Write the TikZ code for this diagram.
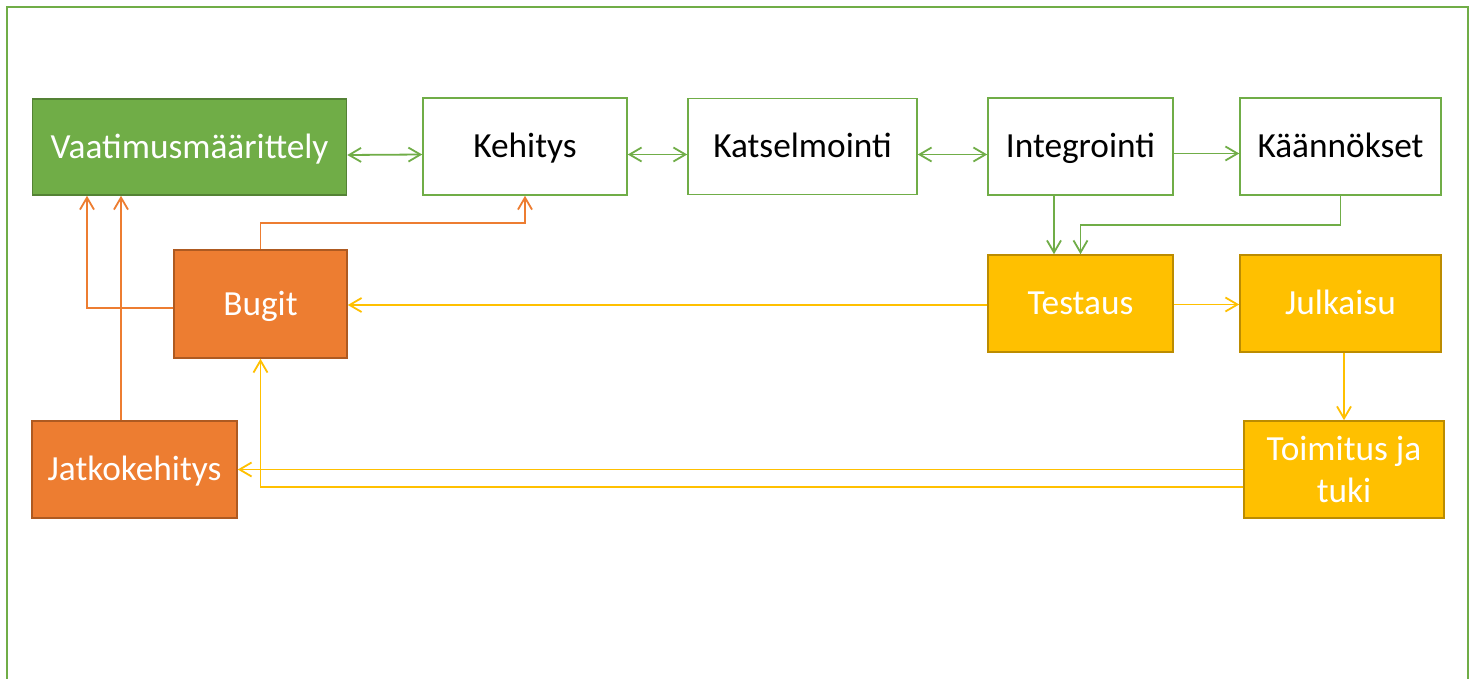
\documentclass[tikz,border=0pt]{standalone}
\usepackage{fontspec}
\setmainfont{Carlito}
\usetikzlibrary{arrows.meta,calc}
\definecolor{grn}{HTML}{70AD47}
\definecolor{grnD}{HTML}{548235}
\definecolor{org}{HTML}{ED7D31}
\definecolor{orgD}{HTML}{AE5A21}
\definecolor{yel}{HTML}{FFC000}
\definecolor{yelD}{HTML}{BC8C00}
\begin{document}
\begin{tikzpicture}[x=1pt,y=-1pt,
  every node/.style={font=\fontsize{35.3}{42.5}\selectfont, inner sep=0pt, line width=1.6pt, align=center},
  one/.style={text height=22.5pt, text depth=0pt},
  wbox/.style={one, draw=grn, fill=white, text=black},
  gbox/.style={one, draw=grnD, fill=grn, text=white},
  obox/.style={one, draw=orgD, fill=org, text=white},
  ybox/.style={one, draw=yelD, fill=yel, text=white},
  ybox2/.style={draw=yelD, fill=yel, text=white},
  gcon/.style={draw=grn, line width=1.8pt, arrows={-tip}},
  ocon/.style={draw=org, line width=1.8pt, arrows={-tip}},
  ycon/.style={draw=yel, line width=1.8pt, arrows={-tip}},
  tip/.tip={Straight Barb[length=12pt,width=14pt]}
]
\useasboundingbox (0,0) rectangle (1473,679);
\fill[white] (0,0) rectangle (1473,679);
\draw[grn, line width=2pt] (7,690) -- (7,7) -- (1468,7) -- (1468,690);

% nodes
\node[gbox, minimum width=314pt, minimum height=96pt] (vaa) at (189.5,147) {Vaatimusmäärittely};
\node[wbox, minimum width=204pt, minimum height=97pt] (keh) at (525,146.5) {Kehitys};
\node[wbox, minimum width=229pt, minimum height=96pt] (kat) at (802.5,146.5) {Katselmointi};
\node[wbox, minimum width=185pt, minimum height=97pt] (int) at (1080.5,146.5) {Integrointi};
\node[wbox, minimum width=201pt, minimum height=97pt] (kan) at (1340.5,146.5) {Käännökset};
\node[obox, minimum width=173pt, minimum height=108pt] (bug) at (260.5,304) {Bugit};
\node[ybox, minimum width=185pt, minimum height=97pt] (tes) at (1080.5,303.5) {Testaus};
\node[ybox, minimum width=201pt, minimum height=97pt] (jul) at (1340.5,303.5) {Julkaisu};
\node[obox, minimum width=205pt, minimum height=97pt] (jat) at (134.5,469.5) {Jatkokehitys};
\node[ybox2, minimum width=200pt, minimum height=97pt] (toi) at (1344,469.5) {Toimitus ja\\tuki};

% green connectors
\draw[gcon, arrows={tip-tip}] ([yshift=-8pt]vaa.east) -- ([yshift=-8pt]keh.west);
\draw[gcon, arrows={tip-tip}] ([yshift=-8pt]keh.east) -- ([yshift=-8pt]kat.west);
\draw[gcon, arrows={tip-tip}] ([yshift=-8pt]kat.east) -- ([yshift=-8pt]int.west);
\draw[gcon] ([yshift=-7pt]int.east) -- ([yshift=-7pt]kan.west);
\draw[gcon] ([xshift=-26.5pt]int.south) -- ([xshift=-26.5pt]tes.north);
\coordinate (k1) at (1340.5,225);
\draw[gcon] (kan.south) -- (k1) -| (tes.north);

% orange connectors
\coordinate (b1) at (260.5,223);
\draw[ocon] (bug.north) -- (b1) -| (keh.south);
\coordinate (b2) at (87,308);
\draw[ocon] ([yshift=-4pt]bug.west) -- (b2) -- (b2 |- vaa.south);
\draw[ocon] ([xshift=-13.5pt]jat.north) -- ([xshift=-13.5pt]jat.north |- vaa.south);

% yellow connectors
\draw[ycon] ([yshift=-1.5pt]tes.west) -- ([yshift=-1.5pt]tes.west -| bug.east);
\draw[ycon] ([yshift=-1pt]tes.east) -- ([yshift=-1pt]jul.west);
\draw[ycon] ([xshift=3.5pt]jul.south) -- (toi.north);
\draw[ycon] (toi.west) -- (toi.west -| jat.east);
\coordinate (t1) at (260.5,487);
\draw[ycon] ([yshift=-17.5pt]toi.west) -- (t1) -- (bug.south);
\end{tikzpicture}
\end{document}
